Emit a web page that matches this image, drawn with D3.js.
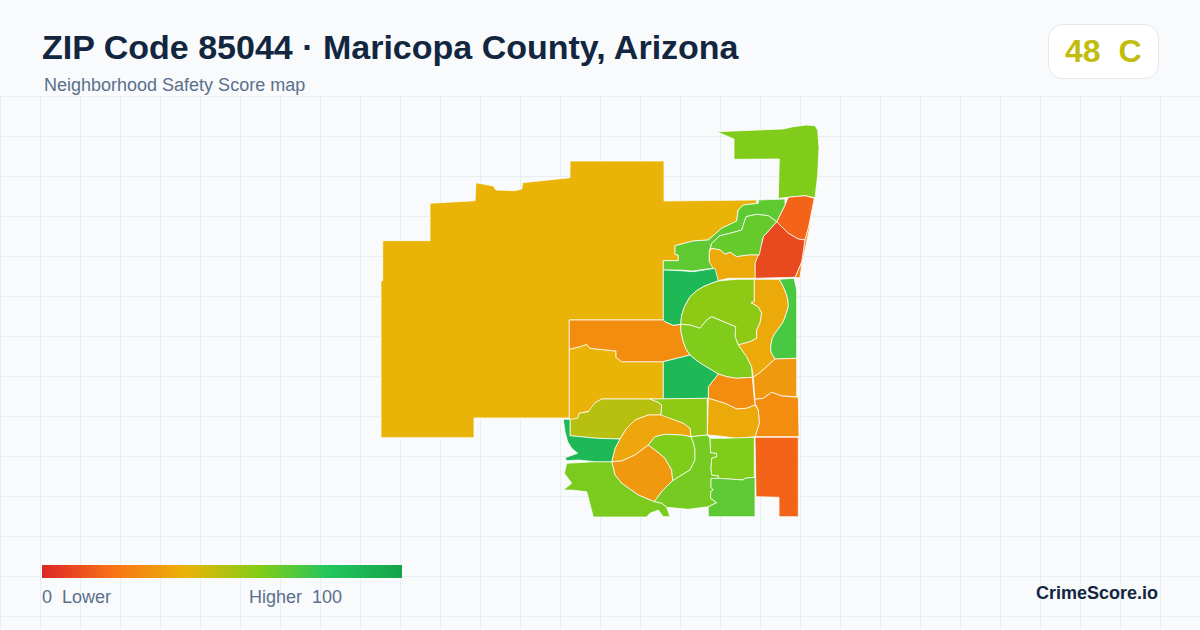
<!DOCTYPE html>
<html><head><meta charset="utf-8">
<script src="https://cdn.jsdelivr.net/npm/d3@7/dist/d3.min.js"></script>
<style>html,body{margin:0;padding:0;background:#f8fafc}svg{display:block}text{font-family:"Liberation Sans",Arial,sans-serif;white-space:pre}</style>
</head><body><svg id="c" width="1200" height="630"></svg>
<script>
const titleText = "ZIP Code 85044 · Maricopa County, Arizona";
const subtitleText = "Neighborhood Safety Score map";
const badgeText = "48  C";
const overallScore = 48;
const brandText = "CrimeScore.io";
const legendLabels = ["0  Lower", "Higher  100"];
const scoreStops = [0, 20, 40, 60, 80, 100];
const scoreColors = ["#dc2626", "#f97316", "#eab308", "#84cc16", "#22c55e", "#16a34a"];

const tractScores = [40, 40, 28, 61, 16, 25, 9, 67.5, 66, 37, 87.5, 58, 61, 37, 72, 32, 28, 28, 37, 87.5, 50, 58, 36, 32, 61, 63, 62, 87.5, 61, 68, 16];
const tractRings = [
 [[189,36],[283,36],[283,76],[375.7,75],[375.7,78.3],[362,80],[357,85],[355.7,96],[340.7,103.3],[327,115],[312.3,116],[294,120.7],[294,129.3],[297.3,130],[297.3,135.7],[282.3,135.7],[282.3,195],[188.3,195],[188.3,293],[93,293],[93,312.7],[0,312.7],[0,155.7],[1.7,155.7],[1.7,115.7],[49,115.7],[49,78.3],[94,75.7],[95,57.7],[112.3,61],[115,65],[134,65.7],[140.7,64],[141.7,57.7],[189,52.7]],
 [[188.3,224.3],[199,221.7],[205.7,219.3],[209,223.3],[235,226],[235,232.3],[240.7,236.7],[282.3,236.7],[282.3,274],[220.7,274],[214,278.3],[209,286],[198.3,288.3],[197.3,293.3],[189,295],[188.3,293]],
 [[188.3,195],[282.3,195],[284,196.7],[292.3,200.3],[299.7,199.3],[300,207],[302.3,216.7],[305,224],[309,230],[282.3,236.7],[279,236.7],[240.7,236.7],[235,232.3],[235,226],[209,223.3],[205.7,219.3],[199,221.7],[188.3,224.3]],
 [[335.7,6.7],[353,14],[353,34.3],[398.3,34],[397.3,73.3],[407.3,72.3],[424,70.7],[434,72.7],[436.7,50],[438,23.3],[436.7,5],[434,0.7],[425.7,0],[412.3,1.7],[402.3,4]],
 [[407.3,72.3],[424,70.7],[433.3,73.3],[427.3,103.3],[424,115],[417.3,114],[407.3,108.3],[395.7,96.7],[404,80]],
 [[430,96],[424.3,123.3],[420.7,140],[419,152.7],[414,152.7],[420.7,136.7],[424,115],[427.3,103.3]],
 [[395.7,96.7],[407.3,108.3],[417.3,114],[424,115],[420.7,136.7],[414,152.3],[374,153.3],[374,138.3],[380.7,118.3],[382.3,111.7]],
 [[377.3,75],[404,74],[404,80],[395.7,96.7],[387.3,90.7],[375.7,89.3],[365,91.7],[360.7,105],[349,108.3],[339,110.7],[330.7,118.3],[328.3,126.7],[328.3,136.7],[335.7,143.3],[325.7,144],[312.3,146],[299,145],[282.3,145],[282.3,135.7],[297.3,135.7],[297.3,130],[294,129.3],[294,120.7],[312.3,116],[327.3,115],[340.7,103.3],[355.7,96],[357.3,85],[362.3,80],[377.3,78.3]],
 [[365,91.7],[375.7,89.3],[387.3,90.7],[395.7,96.7],[382.3,111.7],[380.7,118.3],[378.3,130],[367.3,130],[355.7,131.7],[349,127.3],[344,129.3],[339,125],[330.7,123.3],[329,125],[330.7,118.3],[339,110.7],[349,108.3],[360.7,105]],
 [[330.7,123.3],[339,125],[344,129.3],[349,127.3],[355.7,131.7],[367.3,130],[377.3,130],[374,138.3],[374,153.3],[347.3,153.3],[337.3,155.7],[334,146.7],[328.3,136.7],[328.3,126.7]],
 [[282.3,145],[299,145.7],[312.3,146.7],[334,143.3],[337.3,155.7],[330,158.5],[322.3,161.7],[315.7,165.7],[309,171.7],[303.5,181.5],[300.7,190],[299.7,199.3],[292.3,200.3],[284,196.7],[282.3,195]],
 [[337.3,156],[347.3,155],[355.7,154.3],[373.3,154.3],[373.3,176.7],[370,177.7],[377.3,181.7],[380.7,188.3],[379,198.3],[375.7,205],[375.7,213.3],[369,216.7],[357.3,220],[354,211.7],[354.7,201.7],[342.3,196.7],[330.7,191.7],[325.7,195],[319,203.3],[309,200],[299.7,199.3],[300.7,190],[303.5,181.5],[309,171.7],[315.7,165.7],[322.3,161.7],[330,158.5]],
 [[299.7,199.3],[309,200],[319,203.3],[325.7,195],[330.7,191.7],[342.3,196.7],[354.7,201.7],[354,211.7],[357.3,220],[365.7,231.7],[370.7,241.7],[371.3,252.3],[355.7,253.3],[345.7,251.7],[337.3,249],[322.3,240],[315.7,235.7],[309,230],[305,224],[302.3,216.7],[300,207]],
 [[373.3,154.3],[398.3,154.3],[402.5,162],[405.7,170],[407,176],[407.3,181.7],[405.5,188],[402.3,196.7],[399,201.5],[394,208.3],[391,214],[389.7,221.7],[390,227],[394,234],[385.7,241.7],[379,247.5],[372.3,252.3],[370.7,241.7],[365.7,231.7],[357.3,220],[369,216.7],[375.7,213.3],[375.7,205],[379,198.3],[380.7,188.3],[377.3,181.7],[370,177.7],[373.3,176.7]],
 [[398.3,154.3],[413,153.3],[415.7,165],[415.7,233.3],[394,234],[390,227],[389.7,221.7],[391,214],[394,208.3],[399,201.5],[402.3,196.7],[405.5,188],[407.3,181.7],[407,176],[405.7,170],[402.5,162]],
 [[394,234],[415.7,233.3],[415.7,271.7],[400.7,271],[390.7,267.3],[382.3,273.3],[374,274.3],[372.3,252.3],[379,247.5],[385.7,241.7]],
 [[374,274.3],[382.3,273.3],[390.7,267.3],[400.7,271],[417.3,272.3],[418,311.7],[374,311.7],[378.3,298.3],[377.3,285],[374,278.3]],
 [[337.3,249],[345.7,251.7],[355.7,253.3],[371.3,252.3],[373.3,274.3],[374,280],[365.7,283.3],[355.7,284],[344,278.3],[327.3,273.3],[327.3,261.7]],
 [[327.3,273.3],[344,278.3],[355.7,284],[365.7,283.3],[374,280],[377.3,285],[378.3,298.3],[374,311.7],[355.7,313.3],[335.7,310.7],[326.3,310]],
 [[282.3,236.7],[309,230],[315.7,235.7],[322.3,240],[337.3,249],[327.3,261.7],[327.3,273.3],[282.3,274]],
 [[189,294.3],[196.7,293.3],[198,288.3],[207.3,286.7],[214,277.7],[220.7,274],[269,274],[277.3,277.3],[280.7,280],[280,290],[267.3,290],[254,295],[245.7,303.3],[239,314],[215.7,313.3],[189,310.7]],
 [[269,274],[326.3,273.3],[326.3,310],[310,311.7],[309,303.3],[302.3,298.3],[280.7,291],[280,290],[280.7,280],[277.3,277.3]],
 [[254,295],[267.3,290],[280,290],[302.3,298.3],[309,303.3],[310,311.7],[300.7,310],[284,309.3],[274,311.7],[267.3,320],[254,330],[240.7,336],[230.7,336.7],[234,323.3],[239,314],[245.7,303.3]],
 [[267.3,320],[276,326.5],[284,333.3],[290.7,345],[291.7,355.7],[286,361],[280.7,366.7],[273.3,376.7],[257.3,370],[240.7,358.3],[234,350],[230.7,336.7],[240.7,336],[254,330]],
 [[274,311.7],[284,309.3],[300.7,310],[310,311.7],[312.5,318],[314,325],[314,335],[309,345],[300,350.5],[291.7,355.7],[290.7,345],[284,333.3],[276,326.5],[267.3,320]],
 [[310,311.7],[326.3,310],[329,313.3],[329.7,327.7],[335.7,328.3],[335.7,331.7],[330.7,333.3],[330,343.3],[330.7,350],[337.3,350.7],[337.3,353.3],[330,353.6],[330,362.3],[332.3,365],[329.7,366.7],[329.7,373.3],[335.7,377.7],[327.3,381.7],[307.3,384.3],[285.7,382.3],[280.7,378.3],[273.3,376.7],[280.7,366.7],[286,361],[291.7,355.7],[300,350.5],[309,345],[314,335],[314,325],[312.5,318]],
 [[230.7,336.7],[234,350],[240.7,358.3],[257.3,370],[273.3,376.7],[280.7,378.3],[285.7,382.3],[289,391.7],[282.3,391.7],[277.3,385],[269,388.3],[265.7,392],[212.3,392],[205.7,366.7],[190.7,365],[182.3,365],[190.7,358.3],[183.3,348.3],[185.7,338.3],[214,336.7]],
 [[182.3,294.3],[189,294.3],[189,310.7],[215.7,313.3],[239,314],[234,323.3],[230.7,336.7],[214,336.7],[197.3,335],[185.7,335.7],[184,332.7],[196.7,328.3],[190.7,323.3],[186.7,316.7],[184,306.7]],
 [[329,313.3],[344,313.3],[373.3,312.3],[373.3,352.3],[364,353.3],[362.3,355],[337.3,353.3],[337.3,350.7],[330.7,350],[330,343.3],[330.7,333.3],[335.7,331.7],[335.7,328.3],[329.7,327.7]],
 [[330,353.6],[337.3,353.3],[362.3,355],[364,353.3],[374,352.3],[374,391.7],[327.3,391.7],[327.3,381.7],[335.7,377.7],[329.7,373.3],[329.7,366.7],[332.3,365],[330,362.3]],
 [[374,312.3],[417.3,312.3],[417.3,391.7],[398,391.7],[398,372.3],[375,371.7]]
];

const W = 1200, H = 630;
const svg = d3.select("#c");
const color = d3.scaleLinear().domain(scoreStops).range(scoreColors);

// page grid
const gridTop = 96, gridStep = 40;
const grid = svg.append("g").attr("stroke", "#e8eff3").attr("stroke-width", 1);
grid.selectAll("line.v").data(d3.range(0, W, gridStep)).join("line").attr("class", "v")
  .attr("x1", d => d + 0.5).attr("x2", d => d + 0.5).attr("y1", gridTop).attr("y2", H);
grid.selectAll("line.h").data(d3.range(gridTop, H, gridStep)).join("line").attr("class", "h")
  .attr("y1", d => d + 0.5).attr("y2", d => d + 0.5).attr("x1", 0).attr("x2", W);

// map
const features = tractRings.map((r, i) => ({
  type: "Feature", properties: {score: tractScores[i]},
  geometry: {type: "Polygon", coordinates: [r.concat([r[0]])]}
}));
const projection = d3.geoIdentity().fitExtent([[381, 125], [819, 517]], {type: "FeatureCollection", features});
const path = d3.geoPath(projection);
svg.append("g").selectAll("path").data(features).join("path")
  .attr("d", path).attr("fill", d => color(d.properties.score))
  .attr("stroke", "#fff").attr("stroke-width", 0.75).attr("stroke-linejoin", "round");

// header
svg.append("text").attr("x", 42).attr("y", 59).attr("font-size", 34).attr("font-weight", 700).attr("fill", "#12263f").text(titleText);
svg.append("text").attr("x", 44).attr("y", 91).attr("font-size", 18).attr("fill", "#5b6f8c").text(subtitleText);
svg.append("rect").attr("x", 1048.5).attr("y", 24.5).attr("width", 110).attr("height", 54).attr("rx", 14)
  .attr("fill", "#fff").attr("stroke", "#e2e8f0");
svg.append("text").attr("x", 1065).attr("y", 62).attr("font-size", 32).attr("font-weight", 700).attr("fill", color(overallScore)).text(badgeText);

// legend
const legendX = d3.scaleLinear().domain([0, 100]).range([42, 402]);
const grad = svg.append("defs").append("linearGradient").attr("id", "lg");
grad.selectAll("stop").data(scoreStops).join("stop")
  .attr("offset", d => d + "%").attr("stop-color", d => color(d));
svg.append("rect").attr("x", legendX(0)).attr("y", 565).attr("width", legendX(100) - legendX(0)).attr("height", 13).attr("fill", "url(#lg)");
svg.append("text").attr("x", 42).attr("y", 603).attr("font-size", 18).attr("fill", "#5b6f8c").text(legendLabels[0]);
svg.append("text").attr("x", 342).attr("y", 603).attr("text-anchor", "end").attr("font-size", 18).attr("fill", "#5b6f8c").text(legendLabels[1]);
svg.append("text").attr("x", 1158).attr("y", 599).attr("text-anchor", "end").attr("font-size", 18).attr("font-weight", 700).attr("fill", "#12263f").text(brandText);
</script></body></html>
